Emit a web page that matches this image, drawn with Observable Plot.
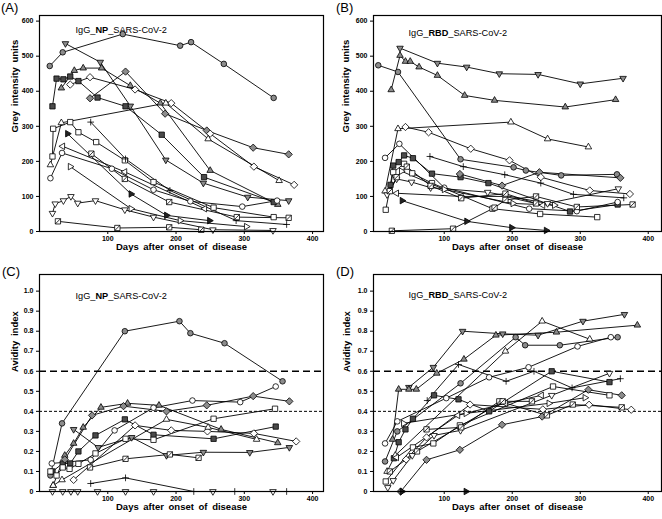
<!DOCTYPE html>
<html><head><meta charset="utf-8">
<script src="https://cdn.jsdelivr.net/npm/d3@7"></script>
<script src="https://cdn.jsdelivr.net/npm/@observablehq/plot@0.6"></script>
<style>
body{margin:0;background:#fff;}
#wrap{position:relative;width:662px;height:519px;font-family:"Liberation Sans",Arial,sans-serif;}
#wrap svg{position:absolute;}
.lab{position:absolute;font-size:13px;line-height:15px;font-family:"Liberation Sans",Arial,sans-serif;}
g[aria-label$="tick label"] text{font-weight:bold;font-size:7px;}
</style></head>
<body><div id="wrap"></div>
<script>
// ---- data: [patient, [[day, value], ...]] ----
const patients = ["P1","P2","P3","P4","P5","P6","P7","P8","P9","P10","P11","P12","P13","P14","P15","P16"];
const markerKind = ["circle","down","up","square","diamond","diamond","up","square","circle","left","right","down","plus","right","slash","slash"];
const markerFill = ["#8c8c8c","#8c8c8c","#8c8c8c","#4a4a4a","#8c8c8c","white","white","white","white","white","white","white","none","#222","white","white"];

const npGrey = [
 ["P1",[[15,472],[34,511],[122,563],[206,530],[222,540],[270,478],[343,381]]],
 ["P2",[[38,536],[89,483],[133,358],[185,204],[240,138],[305,98],[365,88]]],
 ["P3",[[32,409],[51,459],[64,466],[91,466],[133,416],[177,366],[250,174],[349,77]]],
 ["P4",[[19,357],[25,436],[35,434],[45,442],[57,429],[85,382],[126,357],[179,276],[241,155],[343,84]]],
 ["P5",[[74,380],[126,456],[184,336],[245,288],[313,239],[365,220]]],
 ["P6",[[45,419],[74,440],[140,405],[193,366],[250,279],[314,185],[373,133]]],
 ["P7",[[16,190],[32,310],[185,366],[247,264],[351,145]]],
 ["P8",[[19,214],[20,293],[45,312],[57,283],[83,255],[125,203],[167,141],[255,68],[343,41]]],
 ["P9",[[16,152],[33,224],[106,179],[167,119],[221,86],[297,71],[348,88]]],
 ["P10",[[34,243],[125,170],[242,65]]],
 ["P11",[[45,185],[134,65],[206,31],[303,14]]],
 ["P12",[[19,52],[23,79],[35,88],[46,100],[56,81],[82,88],[125,62],[167,41],[254,5],[342,3]]],
 ["P13",[[75,312],[126,207],[191,117],[288,31],[362,20]]],
 ["P14",[[41,279],[134,107],[186,46],[249,31]]],
 ["P15",[[27,29],[114,10],[190,12],[237,5]]],
 ["P16",[[76,222],[125,150],[190,84],[289,41],[365,39]]]
];
const rbdGrey = [
 ["P1",[[3,474],[32,455],[124,206],[202,183],[220,174],[272,160],[354,163]]],
 ["P2",[[35,523],[90,480],[133,469],[181,450],[238,448],[300,421],[363,437]]],
 ["P3",[[22,404],[35,502],[43,485],[50,485],[63,469],[90,445],[130,388],[174,374],[278,355],[352,376]]],
 ["P4",[[21,133],[25,188],[33,198],[41,217],[54,209],[82,165],[124,155],[165,138],[285,57],[355,77]]],
 ["P5",[[123,164],[185,131],[240,169],[359,153]]],
 ["P6",[[43,298],[77,283],[139,236],[196,203],[242,155],[314,117],[373,107]]],
 ["P7",[[13,115],[32,293],[198,312],[252,264],[312,241]]],
 ["P8",[[14,62],[25,169],[41,193],[53,166],[82,138],[171,65],[241,50],[325,41]]],
 ["P9",[[13,210],[34,250],[100,125],[225,65],[295,58],[355,84]]],
 ["P10",[[30,109],[125,100],[190,100],[245,75]]],
 ["P11",[[37,172],[100,120],[201,80],[262,75]]],
 ["P12",[[16,105],[30,150],[52,141],[80,125],[164,112],[252,80],[356,122]]],
 ["P13",[[79,214],[128,185],[189,162],[242,138],[290,106],[364,96]]],
 ["P14",[[38,88],[133,29],[199,11],[250,3]]],
 ["P15",[[23,2],[113,8],[174,68],[190,90],[235,100],[295,70],[377,77]]],
 ["P16",[[20,115],[30,155],[45,185],[80,130],[125,95],[190,108],[235,80]]]
];
const npAvid = [
 ["P1",[[16,0.08],[33,0.34],[125,0.80],[205,0.85],[221,0.79],[271,0.74],[356,0.55]]],
 ["P2",[[50,0.31],[86,0.22],[135,0.27],[186,0.18],[240,0.196],[308,0.195],[366,0.22]]],
 ["P3",[[20,0.03],[37,0.18],[50,0.24],[64,0.32],[90,0.42],[129,0.44],[175,0.43],[266,0.31],[349,0.243]]],
 ["P4",[[19,0.10],[34,0.14],[45,0.14],[57,0.20],[82,0.28],[125,0.36],[167,0.283],[255,0.263],[346,0.324]]],
 ["P5",[[37,0.16],[77,0.38],[123,0.426],[186,0.40],[245,0.43],[313,0.476],[366,0.45]]],
 ["P6",[[50,0.058],[140,0.33],[193,0.305],[246,0.30],[314,0.29],[376,0.25]]],
 ["P7",[[20,0.03],[33,0.058],[186,0.36],[247,0.32],[318,0.26]]],
 ["P8",[[16,0.10],[25,0.08],[34,0.12],[44,0.113],[57,0.138],[82,0.19],[126,0.263],[167,0.258],[255,0.363],[345,0.413]]],
 ["P9",[[18,0.14],[75,0.158],[110,0.305],[167,0.418],[224,0.454],[294,0.446],[346,0.524]]],
 ["P12",[[19,0],[34,0],[46,0],[56,0],[85,0],[126,0],[167,0],[254,0],[342,0]]],
 ["P13",[[75,0.04],[126,0.068],[226,0],[286,0],[362,0]]],
 ["P15",[[74,0.12],[126,0.163],[191,0.185],[233,0.168]]]
];
const rbdAvid = [
 ["P1",[[13,0.15],[31,0.30],[124,0.54],[205,0.77],[219,0.73],[270,0.73],[355,0.77]]],
 ["P2",[[48,0.52],[84,0.62],[127,0.80],[186,0.787],[238,0.78],[304,0.85],[365,0.884]]],
 ["P3",[[24,0.26],[33,0.51],[48,0.51],[59,0.51],[89,0.59],[129,0.66],[176,0.78],[265,0.795],[384,0.83]]],
 ["P4",[[26,0.166],[33,0.246],[43,0.31],[54,0.363],[85,0.48],[121,0.46],[166,0.40],[258,0.60],[343,0.546]]],
 ["P5",[[36,0],[74,0.158],[123,0.208],[185,0.333],[244,0.374],[312,0.508],[361,0.48]]],
 ["P6",[[44,0.16],[74,0.27],[138,0.434],[245,0.41],[313,0.433],[375,0.408]]],
 ["P7",[[16,0.10],[28,0.18],[190,0.70],[244,0.85],[314,0.76]]],
 ["P8",[[14,0.05],[54,0.22],[84,0.24],[123,0.33],[260,0.524],[343,0.48]]],
 ["P9",[[13,0.24],[31,0.35],[103,0.466],[166,0.57],[224,0.62],[296,0.724],[345,0.77]]],
 ["P10",[[30,0.17],[120,0.38],[190,0.44],[243,0.48]]],
 ["P11",[[40,0.34],[132,0.39],[254,0.44],[307,0.468]]],
 ["P12",[[17,0.02],[25,0.055],[53,0.18],[85,0.28],[124,0.305],[258,0.48],[343,0.59]]],
 ["P13",[[75,0.454],[121,0.634],[191,0.55],[232,0.60],[288,0.517],[359,0.563]]],
 ["P14",[[38,0],[132,0]]],
 ["P15",[[74,0.31],[125,0.32],[181,0.45],[251,0.38],[289,0.434],[361,0.42]]],
 ["P16",[[20,0.1],[60,0.2],[186,0.45],[229,0.45]]]
];
const greyTicks = [0,100,200,300,400,500,600];
const avidTicks = [0,0.1,0.2,0.3,0.4,0.5,0.6,0.7,0.8,0.9,1.0];
const dayTicks = [100,200,300,400];
const avidLimits = [0.6, 0.4];
const xLabel = "Days after onset of disease";

// ---- symbols ----
function sym(kind){
  return {draw(ctx, size){
    const r = Math.sqrt(size/Math.PI);
    if(kind==="circle"){ ctx.moveTo(r,0); ctx.arc(0,0,r,0,2*Math.PI); }
    else if(kind==="square"||kind==="slash"){ const s=r*0.95; ctx.rect(-s,-s,2*s,2*s); if(kind==="slash"){ctx.moveTo(-s,s); ctx.lineTo(s,-s);} }
    else if(kind==="diamond"){ const s=r*1.3; ctx.moveTo(0,-s); ctx.lineTo(s,0); ctx.lineTo(0,s); ctx.lineTo(-s,0); ctx.closePath(); }
    else if(kind==="plus"){ const s=r*1.2; ctx.moveTo(-s,0); ctx.lineTo(s,0); ctx.moveTo(0,-s); ctx.lineTo(0,s); }
    else { const ang={up:0,down:Math.PI,right:Math.PI/2,left:-Math.PI/2}[kind]; const s=r*1.35;
      for(let i=0;i<3;i++){const a=ang+i*2*Math.PI/3; const x=s*Math.sin(a), y=-s*Math.cos(a); if(i===0) ctx.moveTo(x,y); else ctx.lineTo(x,y);} ctx.closePath(); }
  }};
}

function panel(data, o){
  const marks = [];
  if(o.rules){
    marks.push(Plot.ruleY([avidLimits[0]], {stroke:"black", strokeDasharray:"7,4", strokeWidth:1.4}));
    marks.push(Plot.ruleY([avidLimits[1]], {stroke:"black", strokeDasharray:"3,2", strokeWidth:1}));
  }
  for(const [id, pts] of data) marks.push(Plot.line(pts, {x:d=>d[0], y:d=>d[1], stroke:"black", strokeWidth:0.9}));
  for(const [id, pts] of data){
    const i = patients.indexOf(id);
    marks.push(Plot.dot(pts, {x:d=>d[0], y:d=>d[1], symbol:sym(markerKind[i]), r:2.8, fill:markerFill[i], stroke:"black", strokeWidth:0.8}));
  }
  marks.push(Plot.frame({stroke:"black", strokeWidth:1.2}));
  marks.push(Plot.axisY({ticks:o.yTicks, tickSize:3, tickPadding:3, tickFormat:o.yFmt, fontSize:7, fontWeight:"bold", label:null}));
  marks.push(Plot.axisX({ticks:dayTicks, tickSize:3, tickPadding:2, fontSize:7, fontWeight:"bold", label:null}));
  marks.push(Plot.text([o.ylabel], {frameAnchor:"left", rotate:-90, dx:o.ydx, dy:o.ydy, fontWeight:"bold", fontSize:9.5}));
  marks.push(Plot.text([xLabel], {frameAnchor:"bottom", dy:18.5, fontWeight:"bold", fontSize:9.5}));
  marks.push(Plot.text([o.title.join("")], {frameAnchor:"top-left", textAnchor:"start", dx:o.tdx, dy:o.tdy, fontSize:9.2}));
  const svg = Plot.plot({
    width:331, height:259,
    marginLeft:o.ml, marginRight:o.mr, marginTop:o.mt, marginBottom:28,
    x:{domain:o.xd}, y:{domain:o.yd},
    style:{fontFamily:"'Liberation Sans', Arial, sans-serif", background:"white", overflow:"visible"},
    marks
  });
  svg.style.left = o.left+"px"; svg.style.top = o.top+"px";
  svg.querySelectorAll("text").forEach(t=>{
    if(t.textContent===o.title.join("")){
      const s=d3.select(t); s.text(null);
      s.append("tspan").text(o.title[0]);
      s.append("tspan").attr("font-weight","bold").text(o.title[1]);
      s.append("tspan").text(o.title[2]);
    } else if(t.textContent===xLabel || t.textContent===o.ylabel){
      t.setAttribute("word-spacing","2");
    }
  });
  document.getElementById("wrap").appendChild(svg);
}
const fmtAvid = d => d===0 ? "0" : d.toFixed(1);
panel(npGrey, {left:0, top:0, ml:39, mr:8, mt:15, xd:[0,416], yd:[0,616], yTicks:greyTicks, ylabel:"Grey intensity units", ydx:-25, ydy:9, title:["IgG_","NP","_SARS-CoV-2"], tdx:36, tdy:11});
panel(rbdGrey, {left:331, top:0, ml:42, mr:1, mt:15, xd:[-4,419.5], yd:[0,616], yTicks:greyTicks, ylabel:"Grey intensity units", ydx:-28, ydy:9, title:["IgG_","RBD","_SARS-CoV-2"], tdx:35, tdy:14});
panel(npAvid, {left:0, top:260, ml:39, mr:8, mt:14, xd:[0,416], yd:[0,1.083], yTicks:avidTicks, yFmt:fmtAvid, rules:true, ylabel:"Avidity index", ydx:-25, ydy:-11, title:["IgG_","NP","_SARS-CoV-2"], tdx:36, tdy:18});
panel(rbdAvid, {left:331, top:260, ml:42, mr:1, mt:14, xd:[-4,419.5], yd:[0,1.083], yTicks:avidTicks, yFmt:fmtAvid, rules:true, ylabel:"Avidity index", ydx:-27, ydy:-11, title:["IgG_","RBD","_SARS-CoV-2"], tdx:35, tdy:17});

const wrap = document.getElementById("wrap");
[["(A)",1,0],["(B)",336,0],["(C)",2,264],["(D)",336,264]].forEach(([t,x,y])=>{
  const d=document.createElement("div"); d.className="lab"; d.textContent=t; d.style.left=x+"px"; d.style.top=y+"px"; wrap.appendChild(d);
});
</script>
</body></html>
